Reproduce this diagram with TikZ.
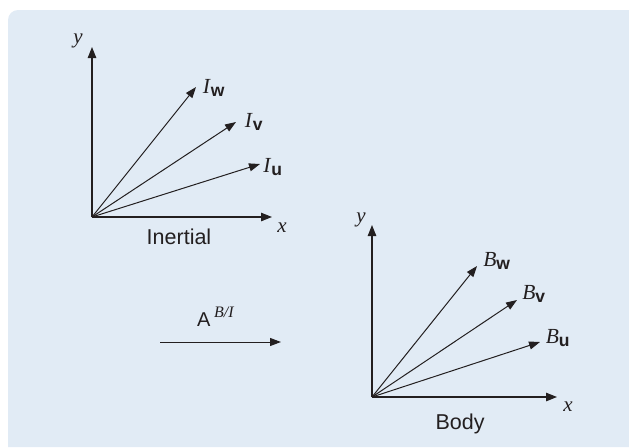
\documentclass[tikz,border=0pt]{standalone}
\usepackage{fontspec}
\setmainfont{Liberation Serif}
\setsansfont{Liberation Sans}
\usetikzlibrary{arrows.meta}
\definecolor{bgblue}{RGB}{225,235,245}
\definecolor{ink}{RGB}{35,31,32}
\begin{document}
\begin{tikzpicture}[x=1pt,y=-1pt,
  axis/.style={draw=ink,line width=1.1pt,-{Triangle[length=11pt,width=8.5pt]}},
  vec/.style={draw=ink,line width=1pt,-{Triangle[length=11pt,width=8pt]}},
  lbl/.style={text=ink,inner sep=0pt,font=\fontsize{21.5}{24}\selectfont},
  axl/.style={text=ink,inner sep=0pt,font=\fontsize{21}{24}\selectfont\itshape},
  framecap/.style={text=ink,inner sep=0pt,font=\sffamily\fontsize{21.5}{24}\selectfont}]
\useasboundingbox (0,0) rectangle (629,447);
\fill[bgblue] (8,447) -- (8,20) arc[start angle=180,end angle=270,radius=10] -- (629,10) -- (629,447) -- cycle;
\newcommand{\subl}[1]{\textsf{\textbf{\fontsize{17.5}{18}\selectfont #1}}}
% Inertial frame
\coordinate (O1) at (92,217);
\coordinate (Y1) at (92,47);
\coordinate (X1) at (272,217);
\coordinate (W1) at (196,87);
\coordinate (V1) at (236,122);
\coordinate (U1) at (260,164);
\draw[axis] (O1) -- (Y1);
\draw[axis] (O1) -- (X1);
\draw[vec] (O1) -- (W1);
\draw[vec] (O1) -- (V1);
\draw[vec] (O1) -- (U1);
\node[axl] (ly1) at (78,41) {y};
\node[axl] (lx1) at (282,228) {x};
\node[lbl] (lw1) at (214,88) {\textit{I}$_{\subl{w}}$};
\node[lbl] (lv1) at (254,122) {\textit{I}$_{\subl{v}}$};
\node[lbl] (lu1) at (273,167) {\textit{I}$_{\subl{u}}$};
\node[framecap] (in) at (179,237) {Inertial};
% Body frame
\coordinate (O2) at (372,397);
\coordinate (Y2) at (372,225);
\coordinate (X2) at (557,397);
\coordinate (W2) at (477,266);
\coordinate (V2) at (517,300);
\coordinate (U2) at (540,342);
\draw[axis] (O2) -- (Y2);
\draw[axis] (O2) -- (X2);
\draw[vec] (O2) -- (W2);
\draw[vec] (O2) -- (V2);
\draw[vec] (O2) -- (U2);
\node[axl] (ly2) at (361,220) {y};
\node[axl] (lx2) at (568,407) {x};
\node[lbl] (lw2) at (497,261) {\textit{B}$_{\subl{w}}$};
\node[lbl] (lv2) at (534,294) {\textit{B}$_{\subl{v}}$};
\node[lbl] (lu2) at (558,338) {\textit{B}$_{\subl{u}}$};
\node[framecap] (bo) at (460,424) {Body};
% Transformation arrow
\coordinate (A0) at (160,342);
\coordinate (A1) at (281,342);
\draw[vec] (A0) -- (A1);
\node[text=ink,inner sep=0pt,anchor=base west,font=\sffamily\fontsize{20}{22}\selectfont] (al) at (197,326) {A};
\node[text=ink,inner sep=0pt,anchor=base west,font=\itshape\fontsize{16}{18}\selectfont] (alsup) at (214,317) {B/I};
\end{tikzpicture}
\end{document}
